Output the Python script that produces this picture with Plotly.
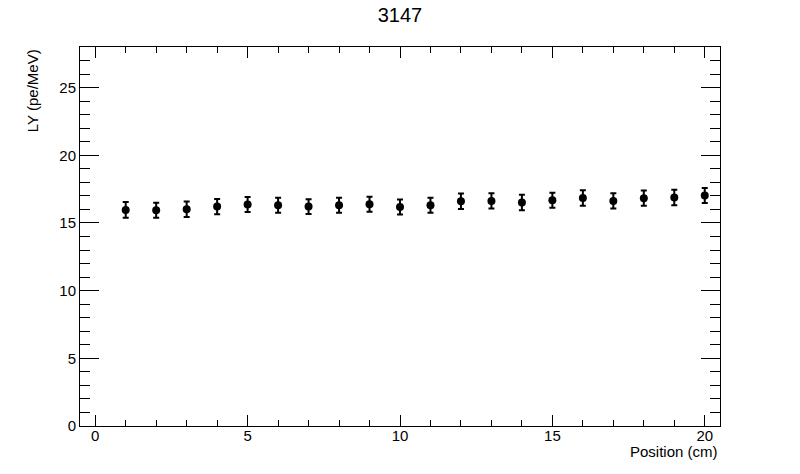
import plotly.graph_objects as go

# Light yield vs position along the bar, run 3147
position_cm = [1, 2, 3, 4, 5, 6, 7, 8, 9, 10, 11, 12, 13, 14, 15, 16, 17, 18, 19, 20]
ly_pe_mev = [15.96, 15.94, 16.01, 16.21, 16.36, 16.31, 16.21, 16.31, 16.38, 16.18,
             16.31, 16.61, 16.63, 16.51, 16.68, 16.85, 16.63, 16.83, 16.88, 17.03]
ly_err = [0.58, 0.55, 0.57, 0.56, 0.55, 0.56, 0.55, 0.55, 0.55, 0.55,
          0.56, 0.57, 0.56, 0.57, 0.56, 0.57, 0.57, 0.56, 0.57, 0.56]

font_name = "Liberation Sans, Arial, sans-serif"

fig = go.Figure()
fig.add_trace(go.Scatter(
    x=position_cm, y=ly_pe_mev,
    mode="markers",
    marker=dict(color="black", size=8, symbol="circle"),
    error_y=dict(type="data", array=ly_err, color="black", thickness=2, width=3),
    showlegend=False,
))

# ROOT-like axes: ticks inside, mirrored on all four sides
axis_common = dict(
    showline=True, linecolor="black", linewidth=1,
    mirror="allticks", ticks="inside", tickcolor="black", tickwidth=1,
    showgrid=False, zeroline=False,
    tickfont=dict(family=font_name, size=15, color="black"),
)

fig.update_xaxes(
    range=[-0.5, 20.5], tick0=0, dtick=5, ticklen=11, ticklabelstandoff=-4,
    minor=dict(dtick=1, ticks="inside", ticklen=6, tickcolor="black", showgrid=False),
    **axis_common,
)
fig.update_yaxes(
    range=[0, 28], tick0=0, dtick=5, ticklen=19,
    minor=dict(dtick=1, ticks="inside", ticklen=10, tickcolor="black", showgrid=False),
    **axis_common,
)

# page body adds an 8px offset, so margins are shifted to compensate
fig.update_layout(
    width=800, height=474,
    margin=dict(l=72, r=88, t=39, b=56),
    paper_bgcolor="white", plot_bgcolor="white",
    font=dict(family=font_name, color="black"),
    title=dict(text="3147", x=0.49, xanchor="center", y=1.0, yanchor="top",
               font=dict(family=font_name, size=20, color="black")),
    annotations=[
        dict(text="Position (cm)", xref="paper", yref="paper", x=1.0, y=-0.066,
             xanchor="right", yanchor="middle", showarrow=False,
             font=dict(family=font_name, size=15, color="black")),
        dict(text="LY (pe/MeV)", xref="paper", yref="paper", x=-0.074, y=1.0,
             xanchor="center", yanchor="top", textangle=-90, showarrow=False,
             font=dict(family=font_name, size=15, color="black")),
    ],
)

fig.write_html("out.html")
